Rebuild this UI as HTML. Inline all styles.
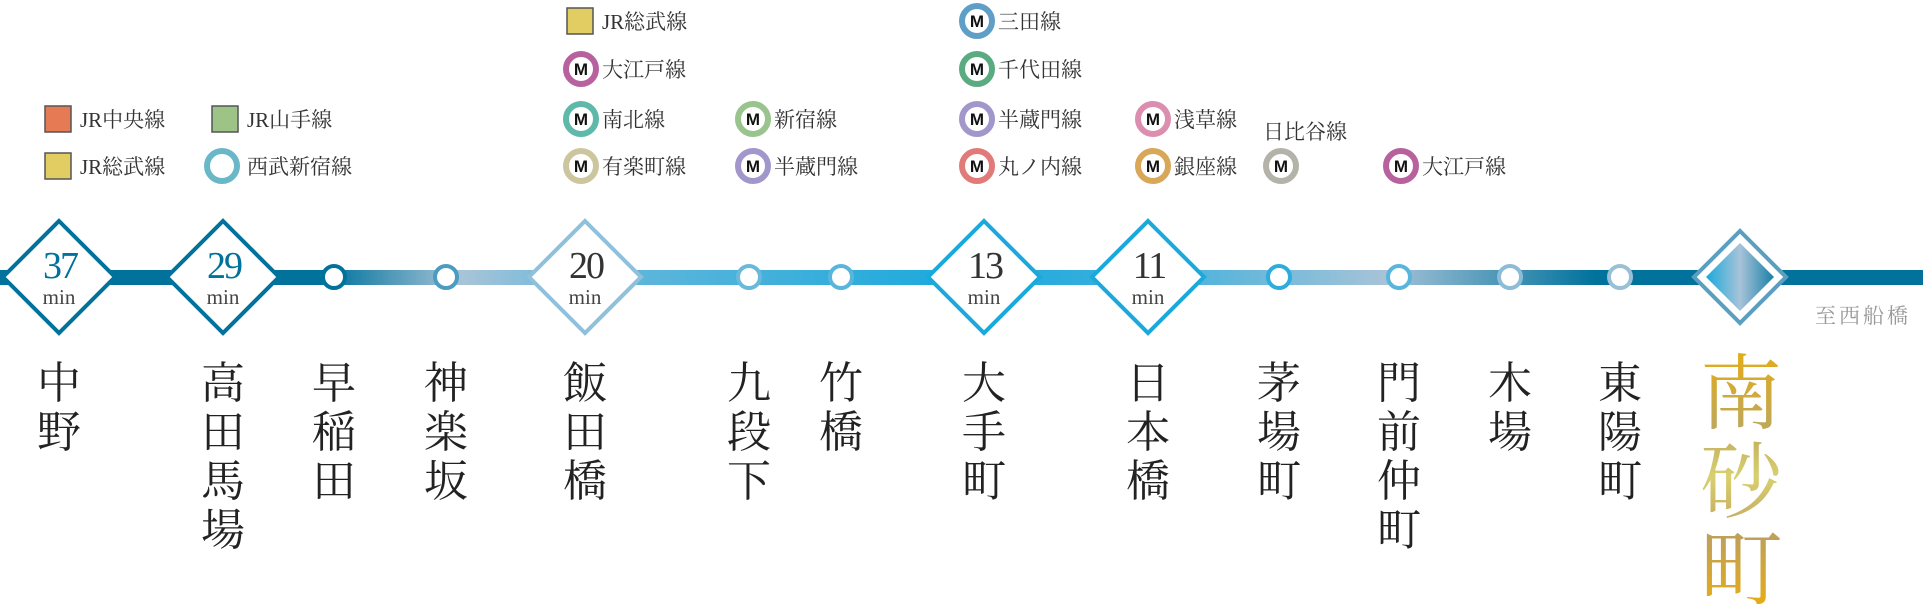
<!DOCTYPE html>
<html><head><meta charset="utf-8"><style>
html,body{margin:0;padding:0;background:#fff;}
svg{display:block;}
.lg{font-family:"Liberation Serif","Noto Serif CJK JP","Noto Serif CJK SC",serif;font-size:21px;fill:#333;}
.st{font-family:"Liberation Serif","Noto Serif CJK JP","Noto Serif CJK SC",serif;font-size:44px;fill:#222;text-anchor:middle;}
.num{font-family:"Liberation Serif",serif;font-size:38px;text-anchor:middle;letter-spacing:-2px;}
.min{font-family:"Liberation Serif",serif;font-size:21px;fill:#444;text-anchor:middle;}
.m{font-family:"Liberation Sans",sans-serif;font-weight:bold;font-size:17px;fill:#111;text-anchor:middle;}
</style></head><body>
<svg width="1923" height="604" viewBox="0 0 1923 604" xmlns="http://www.w3.org/2000/svg">
<defs>
<linearGradient id="ln" x1="0" y1="0" x2="1923" y2="0" gradientUnits="userSpaceOnUse">
<stop offset="0" stop-color="#00729c"/>
<stop offset="0.17" stop-color="#00729c"/>
<stop offset="0.24" stop-color="#a9c4d8"/>
<stop offset="0.30" stop-color="#6ab8da"/>
<stop offset="0.50" stop-color="#1aa9dc"/>
<stop offset="0.60" stop-color="#3eb0dc"/>
<stop offset="0.72" stop-color="#a7c3d8"/>
<stop offset="0.83" stop-color="#00729c"/>
<stop offset="1" stop-color="#00729c"/>
</linearGradient>
<linearGradient id="dd" x1="0" y1="0" x2="1" y2="0">
<stop offset="0" stop-color="#1aa9dc"/><stop offset="0.5" stop-color="#a7c3d8"/><stop offset="1" stop-color="#1a7fa8"/>
</linearGradient>
<linearGradient id="gold" x1="0" y1="353" x2="0" y2="600" gradientUnits="userSpaceOnUse">
<stop offset="0" stop-color="#e3ac1a"/><stop offset="0.3" stop-color="#bfa85a"/><stop offset="0.5" stop-color="#d8d070"/><stop offset="0.75" stop-color="#bfa05a"/><stop offset="1" stop-color="#e3ac1a"/>
</linearGradient>
</defs>

<!-- line -->
<rect x="0" y="270" width="1923" height="15" fill="url(#ln)"/>

<!-- small stations -->
<g fill="#fff" stroke-width="4">
<circle cx="334" cy="277" r="11" stroke="#00729c"/>
<circle cx="446" cy="277" r="11" stroke="#4a9cc0"/>
<circle cx="749" cy="277" r="11" stroke="#6ab8da"/>
<circle cx="841" cy="277" r="11" stroke="#5ab5dc"/>
<circle cx="1279" cy="277" r="11" stroke="#2eacdc"/>
<circle cx="1399" cy="277" r="11" stroke="#5ab5dc"/>
<circle cx="1510" cy="277" r="11" stroke="#8cbcd6"/>
<circle cx="1620" cy="277" r="11" stroke="#9ac0d8"/>
</g>

<!-- diamonds -->
<g stroke-width="4" fill="#fff">
<polygon points="59,221 115,277 59,333 3,277" stroke="#00729c"/>
<polygon points="223,221 279,277 223,333 167,277" stroke="#00729c"/>
<polygon points="585,221 641,277 585,333 529,277" stroke="#8fc0dc"/>
<polygon points="984,221 1040,277 984,333 928,277" stroke="#1aa9dc"/>
<polygon points="1148,221 1204,277 1148,333 1092,277" stroke="#1aa9dc"/>
</g>
<polygon points="1740,231 1786,277 1740,323 1694,277" fill="#fff" stroke="#5a9fc0" stroke-width="4"/>
<polygon points="1740,243 1774,277 1740,311 1706,277" fill="url(#dd)"/>

<text class="num" x="60" y="278" fill="#00729c">37</text><text class="min" x="59" y="304">min</text>
<text class="num" x="224" y="278" fill="#00729c">29</text><text class="min" x="223" y="304">min</text>
<text class="num" x="586" y="278" fill="#333">20</text><text class="min" x="585" y="304">min</text>
<text class="num" x="985" y="278" fill="#333">13</text><text class="min" x="984" y="304">min</text>
<text class="num" x="1149" y="278" fill="#333">11</text><text class="min" x="1148" y="304">min</text>

<text x="1815" y="323" style="font-family:'Noto Serif CJK JP','Noto Serif CJK SC',serif;font-size:21px;fill:#999;letter-spacing:3px">至西船橋</text>

<!-- legends -->
<g stroke="#555" stroke-width="1.5">
<rect x="45" y="106" width="26" height="26" fill="#e57a55"/>
<rect x="212" y="106" width="26" height="26" fill="#9dc486"/>
<rect x="45" y="153" width="26" height="26" fill="#e2cd63"/>
<rect x="567" y="8" width="26" height="26" fill="#e2cd63"/>
</g>
<circle cx="222" cy="166" r="15" fill="#fff" stroke="#6ab7c8" stroke-width="6"/>
<text class="lg" x="80" y="127">JR中央線</text>
<text class="lg" x="247" y="127">JR山手線</text>
<text class="lg" x="80" y="174">JR総武線</text>
<text class="lg" x="247" y="174">西武新宿線</text>
<text class="lg" x="602" y="29">JR総武線</text>

<g stroke-width="6" fill="#fff">
<circle cx="581" cy="69" r="15" stroke="#b7629e"/>
<circle cx="581" cy="119" r="15" stroke="#5fb9ab"/>
<circle cx="581" cy="166" r="15" stroke="#cdc59e"/>
<circle cx="753" cy="119" r="15" stroke="#99c48e"/>
<circle cx="753" cy="166" r="15" stroke="#a297cb"/>
<circle cx="977" cy="21" r="15" stroke="#5f9ec7"/>
<circle cx="977" cy="69" r="15" stroke="#5aac80"/>
<circle cx="977" cy="119" r="15" stroke="#a297cb"/>
<circle cx="977" cy="166" r="15" stroke="#e07b7a"/>
<circle cx="1153" cy="119" r="15" stroke="#dc8eb0"/>
<circle cx="1153" cy="166" r="15" stroke="#d8a858"/>
<circle cx="1281" cy="166" r="15" stroke="#b3b3a9"/>
<circle cx="1401" cy="166" r="15" stroke="#b7629e"/>
</g>
<g class="m">
<text class="m" x="581" y="75">M</text><text class="m" x="581" y="125">M</text><text class="m" x="581" y="172">M</text>
<text class="m" x="753" y="125">M</text><text class="m" x="753" y="172">M</text>
<text class="m" x="977" y="27">M</text><text class="m" x="977" y="75">M</text><text class="m" x="977" y="125">M</text><text class="m" x="977" y="172">M</text>
<text class="m" x="1153" y="125">M</text><text class="m" x="1153" y="172">M</text>
<text class="m" x="1281" y="172">M</text><text class="m" x="1401" y="172">M</text>
</g>
<text class="lg" x="602" y="77">大江戸線</text>
<text class="lg" x="602" y="127">南北線</text>
<text class="lg" x="602" y="174">有楽町線</text>
<text class="lg" x="774" y="127">新宿線</text>
<text class="lg" x="774" y="174">半蔵門線</text>
<text class="lg" x="998" y="29">三田線</text>
<text class="lg" x="998" y="77">千代田線</text>
<text class="lg" x="998" y="127">半蔵門線</text>
<text class="lg" x="998" y="174">丸ノ内線</text>
<text class="lg" x="1174" y="127">浅草線</text>
<text class="lg" x="1174" y="174">銀座線</text>
<text class="lg" x="1263" y="139">日比谷線</text>
<text class="lg" x="1422" y="174">大江戸線</text>

<!-- station names -->
<g class="st">
<text x="59" y="398">中</text><text x="59" y="447">野</text>
<text x="223" y="398">高</text><text x="223" y="447">田</text><text x="223" y="496">馬</text><text x="223" y="545">場</text>
<text x="334" y="398">早</text><text x="334" y="447">稲</text><text x="334" y="496">田</text>
<text x="446" y="398">神</text><text x="446" y="447">楽</text><text x="446" y="496">坂</text>
<text x="585" y="398">飯</text><text x="585" y="447">田</text><text x="585" y="496">橋</text>
<text x="749" y="398">九</text><text x="749" y="447">段</text><text x="749" y="496">下</text>
<text x="841" y="398">竹</text><text x="841" y="447">橋</text>
<text x="984" y="398">大</text><text x="984" y="447">手</text><text x="984" y="496">町</text>
<text x="1148" y="398">日</text><text x="1148" y="447">本</text><text x="1148" y="496">橋</text>
<text x="1279" y="398">茅</text><text x="1279" y="447">場</text><text x="1279" y="496">町</text>
<text x="1399" y="398">門</text><text x="1399" y="447">前</text><text x="1399" y="496">仲</text><text x="1399" y="545">町</text>
<text x="1510" y="398">木</text><text x="1510" y="447">場</text>
<text x="1620" y="398">東</text><text x="1620" y="447">陽</text><text x="1620" y="496">町</text>
</g>
<g style="font-family:'Liberation Serif','Noto Serif CJK JP','Noto Serif CJK SC',serif;font-size:82px;text-anchor:middle" fill="url(#gold)">
<text x="1741" y="422">南</text><text x="1741" y="510">砂</text><text x="1741" y="598">町</text>
</g>
</svg>
</body></html>
